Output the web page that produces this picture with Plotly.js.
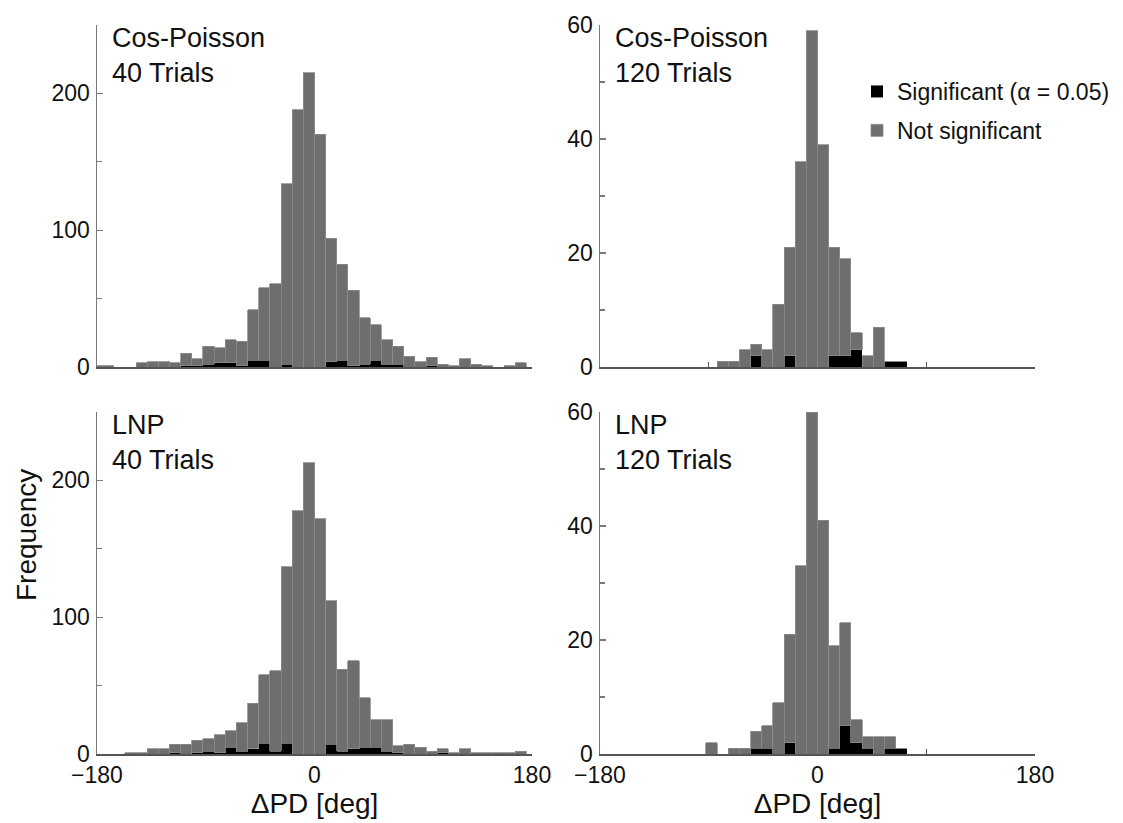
<!DOCTYPE html>
<html>
<head>
<meta charset="utf-8">
<script src="https://cdn.plot.ly/plotly-3.0.1.min.js"></script>
<style>html,body{margin:0;padding:0;background:#fff;}#chart{width:1123px;height:823px;}</style>
</head>
<body>
<div id="chart"></div>
<script>
// Bin centres of the ΔPD histogram (deg); bin width = 360/39 deg
const binCenters = [-180.0,-170.8,-161.5,-152.3,-143.1,-133.8,-124.6,-115.4,-106.2,-96.9,
  -87.7,-78.5,-69.2,-60.0,-50.8,-41.5,-32.3,-23.1,-13.8,-4.6,
  4.6,13.8,23.1,32.3,41.5,50.8,60.0,69.2,78.5,87.7,
  96.9,106.2,115.4,124.6,133.8,143.1,152.3,161.5,170.8,180.0];
const binWidth = 9.2308;

// Cos-Poisson, 40 trials
const cp40Total = [1,1,0,0,3,4,4,3,10,6, 15,14,20,19,42,58,61,134,188,215,
  170,94,75,56,36,31,20,15,8,4, 7,2,1,6,2,1,0,1,3,0];
const cp40Sig   = [0,0,0,0,0,0,0,0,1,1, 2,3,3,1,5,5,0,2,0,0,
  0,4,5,1,2,5,2,2,0,0, 1,0,0,0,0,0,0,0,0,0];
// Cos-Poisson, 120 trials
const cp120Total = [0,0,0,0,0,0,0,0,0,0, 0,1,1,3,4,3,11,21,36,59,
  39,21,19,6,2,7,1,1,0,0, 0,0,0,0,0,0,0,0,0,0];
const cp120Sig   = [0,0,0,0,0,0,0,0,0,0, 0,0,0,0,2,0,0,2,0,0,
  0,2,2,3,0,0,1,1,0,0, 0,0,0,0,0,0,0,0,0,0];
// LNP, 40 trials
const lnp40Total = [0,0,0,1,1,4,4,7,7,10, 11,14,17,23,37,58,61,137,178,213,
  172,112,62,68,41,25,25,6,7,5, 2,4,1,4,1,1,1,1,2,0];
const lnp40Sig   = [0,0,0,0,0,0,0,1,0,1, 2,1,5,2,4,8,2,8,0,0,
  0,7,2,4,5,5,2,1,0,0, 0,1,0,0,0,0,0,0,0,0];
// LNP, 120 trials
const lnp120Total = [0,0,0,0,0,0,0,0,0,0, 2,0,1,1,4,5,9,21,33,60,
  41,19,23,6,3,3,3,1,0,0, 0,0,0,0,0,0,0,0,0,0];
const lnp120Sig   = [0,0,0,0,0,0,0,0,0,0, 0,0,0,0,1,1,0,2,0,0,
  0,1,5,2,1,0,1,1,0,0, 0,0,0,0,0,0,0,0,0,0];

const panelLabels = ["Cos-Poisson<br>40 Trials","Cos-Poisson<br>120 Trials","LNP<br>40 Trials","LNP<br>120 Trials"];
const legendNames = ["Significant (\u03b1 = 0.05)","Not significant"];
const xTickVals = [-180, 0, 180];
const xMinorVals = [-90, 90];
const xTitle = "\u0394PD [deg]";
const yTitle = "Frequency";

const FONT = "Liberation Sans, Arial, Helvetica, sans-serif";
const GRAY = "#6e6e6e", EDGE = "#8c8c8c", BLACK = "#000000";

const panels = [
  {tot: cp40Total, sig: cp40Sig, yr: [0,250], dt: 100, mdt: 50},
  {tot: cp120Total, sig: cp120Sig, yr: [0,60], dt: 20, mdt: 10},
  {tot: lnp40Total, sig: lnp40Sig, yr: [0,250], dt: 100, mdt: 50},
  {tot: lnp120Total, sig: lnp120Sig, yr: [0,60], dt: 20, mdt: 10}
];

const W = 1123, H = 823;
const xDom = [[97/W, 532/W],[600/W, 1035/W]];
const yDom = [[1-367/H, 1-25/H],[1-754/H, 1-412/H]];

const data = [];
const layout = {
  width: W, height: H,
  margin: {l:0, r:0, t:0, b:0},
  paper_bgcolor: "#fff", plot_bgcolor: "#fff",
  barmode: "stack", bargap: 0,
  font: {family: FONT, color: "#111", size: 23},
  showlegend: true,
  legend: {x: 857/W, y: 1-70/H, xanchor: "left", yanchor: "top",
    font: {family: FONT, size: 23, color: "#111"}, traceorder: "grouped",
    tracegroupgap: 6, bgcolor: "rgba(0,0,0,0)"},
  annotations: [],
  hovermode: false
};

panels.forEach((p, i) => {
  const n = i + 1;
  const xa = n === 1 ? "x" : "x" + n;
  const ya = n === 1 ? "y" : "y" + n;
  const notSig = p.tot.map((v, j) => v - p.sig[j]);
  data.push({
    type: "bar", x: binCenters, y: p.sig, width: binWidth,
    xaxis: xa, yaxis: ya, name: legendNames[0], legendgroup: "sig",
    showlegend: n === 1,
    marker: {color: BLACK, line: {color: BLACK, width: 0}}
  });
  data.push({
    type: "bar", x: binCenters, y: notSig, width: binWidth,
    xaxis: xa, yaxis: ya, name: legendNames[1], legendgroup: "ns",
    showlegend: n === 1,
    marker: {color: GRAY, line: {color: EDGE, width: 0.8}}
  });
  const col = i % 2, row = Math.floor(i / 2);
  const bottom = row === 1;
  layout["xaxis" + (n === 1 ? "" : n)] = {
    domain: xDom[col], anchor: ya, range: [-180, 180],
    showline: true, linecolor: "#555", linewidth: 1.5,
    showgrid: false, zeroline: false,
    tickmode: "array", tickvals: xTickVals,
    ticks: "inside", ticklen: 5, tickcolor: "#555", tickwidth: 1.2,
    minor: {tickmode: "array", tickvals: xMinorVals, ticks: "inside", ticklen: 5, tickcolor: "#555", tickwidth: 1.2},
    showticklabels: bottom,
    tickfont: {family: FONT, size: 23, color: "#111"},
    ticklabelstandoff: 0,
    layer: "below traces",
    title: bottom ? {text: xTitle, font: {family: FONT, size: 28, color: "#111"}, standoff: 6} : {text: ""}
  };
  layout["yaxis" + (n === 1 ? "" : n)] = {
    domain: yDom[row], anchor: xa, range: p.yr,
    showline: true, linecolor: "#7a7a7a", linewidth: 1.5,
    showgrid: false, zeroline: false,
    tick0: 0, dtick: p.dt,
    ticks: "inside", ticklen: 6, tickcolor: "#7a7a7a", tickwidth: 1.2,
    minor: {dtick: p.mdt, tick0: 0, ticks: "inside", ticklen: 5, tickcolor: "#7a7a7a", tickwidth: 1.2},
    tickfont: {family: FONT, size: 23, color: "#111"},
    ticklabelstandoff: 1,
    layer: "below traces"
  };
  layout.annotations.push({
    xref: xa + " domain", yref: ya + " domain", x: 0.03, y: 1.0, yshift: 4,
    xanchor: "left", yanchor: "top", align: "left", showarrow: false,
    text: panelLabels[i], font: {family: FONT, size: 27, color: "#111"}
  });
});

layout.annotations.push({
  xref: "paper", yref: "paper", x: 26/W, y: 1-535/H, xanchor: "center", yanchor: "middle",
  textangle: -90, showarrow: false, text: yTitle,
  font: {family: FONT, size: 28, color: "#111"}
});

Plotly.newPlot("chart", data, layout, {staticPlot: true, displayModeBar: false});
</script>
</body>
</html>
